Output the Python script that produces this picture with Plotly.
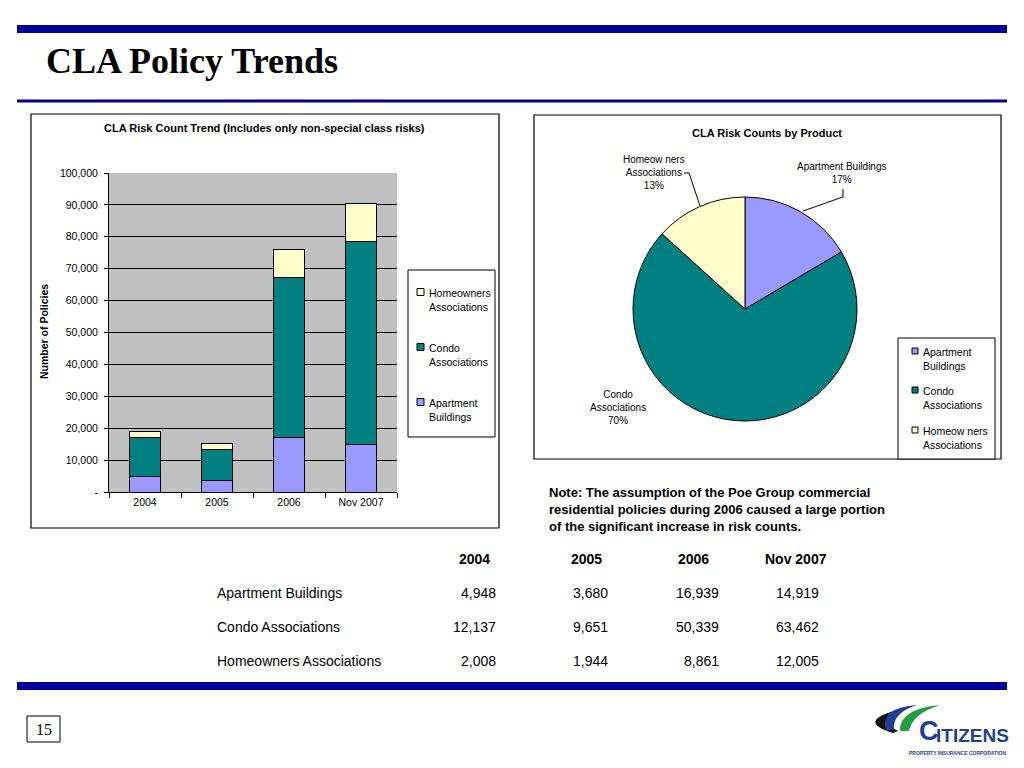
import plotly.graph_objects as go

# ---------------- data ----------------
years = ["2004", "2005", "2006", "Nov 2007"]
apartment = [4948, 3680, 16939, 14919]
condo = [12137, 9651, 50339, 63462]
homeowners = [2008, 1944, 8861, 12005]

series_names = ["Apartment Buildings", "Condo Associations", "Homeowners Associations"]
bar_legend_labels = ["Apartment<br>Buildings", "Condo<br>Associations", "Homeowners<br>Associations"]
pie_labels = ["Apartment Buildings", "Condo Associations", "Homeow ners Associations"]
pie_legend_labels = ["Apartment<br>Buildings", "Condo<br>Associations", "Homeow ners<br>Associations"]
pie_values = [apartment[-1], condo[-1], homeowners[-1]]

y_tickvals = [0, 10000, 20000, 30000, 40000, 50000, 60000, 70000, 80000, 90000, 100000]
y_ticktext = ["-", "10,000", "20,000", "30,000", "40,000", "50,000",
              "60,000", "70,000", "80,000", "90,000", "100,000"]

colors = ["#9999FF", "#008080", "#FFFFCC"]
NAVY = "#000099"
SANS = "Liberation Sans, Arial, sans-serif"
SERIF = "Liberation Serif, Times New Roman, serif"

W, H = 1024, 768


def px(x):
    return x / W


def py(y):
    return 1 - y / H


fig = go.Figure()

series = [apartment, condo, homeowners]
for name, vals, col in zip(series_names, series, colors):
    fig.add_trace(go.Bar(
        x=years, y=vals, name=name, width=0.42,
        marker=dict(color=col, line=dict(color="black", width=1)),
        xaxis="x", yaxis="y", showlegend=False,
    ))

fig.add_trace(go.Pie(
    labels=pie_labels, values=pie_values, sort=False, direction="clockwise",
    rotation=0, textinfo="none", showlegend=False,
    marker=dict(colors=colors, line=dict(color="black", width=1)),
    domain=dict(x=[px(633), px(857)], y=[py(421), py(197)]),
))

shapes = []
ann = []

# slide decorations
shapes.append(dict(type="rect", xref="paper", yref="paper", x0=px(17), x1=px(1007),
                   y0=py(33), y1=py(25), fillcolor=NAVY, line=dict(width=0)))
shapes.append(dict(type="rect", xref="paper", yref="paper", x0=px(17), x1=px(1007),
                   y0=py(102.5), y1=py(99.5), fillcolor=NAVY, line=dict(width=0)))
shapes.append(dict(type="rect", xref="paper", yref="paper", x0=px(17), x1=px(1007),
                   y0=py(690), y1=py(682), fillcolor=NAVY, line=dict(width=0)))

# panels
shapes.append(dict(type="rect", xref="paper", yref="paper", x0=px(31), x1=px(499),
                   y0=py(528), y1=py(114), line=dict(color="black", width=1.2)))
shapes.append(dict(type="rect", xref="paper", yref="paper", x0=px(534), x1=px(1001),
                   y0=py(459), y1=py(115), line=dict(color="black", width=1.2)))

# title
ann.append(dict(text="<b>CLA Policy Trends</b>", x=px(44), y=py(61), xref="paper", yref="paper",
                xanchor="left", yanchor="middle", showarrow=False,
                font=dict(family=SERIF, size=36, color="black")))

# bar chart title / axis title
ann.append(dict(text="<b>CLA Risk Count Trend (Includes only non-special class risks)</b>",
                x=px(264), y=py(128), xref="paper", yref="paper", showarrow=False,
                xanchor="center", yanchor="middle", font=dict(family=SANS, size=11, color="black")))
ann.append(dict(text="<b>Number of Policies</b>", x=px(44), y=py(332), xref="paper", yref="paper",
                showarrow=False, textangle=-90, xanchor="center", yanchor="middle",
                font=dict(family=SANS, size=10.5, color="black")))

# bar legend (manual)
shapes.append(dict(type="rect", xref="paper", yref="paper", x0=px(408), x1=px(495),
                   y0=py(437), y1=py(270), line=dict(color="black", width=1), fillcolor="white"))
bar_leg_y = [402, 347, 292]
for lab, col, yy in zip(bar_legend_labels, colors, bar_leg_y):
    shapes.append(dict(type="rect", xref="paper", yref="paper", x0=px(417), x1=px(424),
                       y0=py(yy + 3.5), y1=py(yy - 3.5), fillcolor=col,
                       line=dict(color="black", width=1)))
    ann.append(dict(text=lab, x=px(427), y=py(yy - 7), xref="paper", yref="paper",
                    showarrow=False, xanchor="left", yanchor="top", align="left",
                    font=dict(family=SANS, size=10.5, color="black")))

# pie title
ann.append(dict(text="<b>CLA Risk Counts by Product</b>", x=px(767), y=py(133), xref="paper",
                yref="paper", showarrow=False, xanchor="center", yanchor="middle",
                font=dict(family=SANS, size=11, color="black")))

# pie labels with computed percentages
total = sum(pie_values)
pcts = [round(v / total * 100) for v in pie_values]
pie_lab_text = [
    "Apartment Buildings<br>%d%%" % pcts[0],
    "Condo<br>Associations<br>%d%%" % pcts[1],
    "Homeow ners<br>Associations<br>%d%%" % pcts[2],
]
pie_lab_pos = [(842, 173), (618, 407), (654, 173)]
for t, (xx, yy) in zip(pie_lab_text, pie_lab_pos):
    ann.append(dict(text=t, x=px(xx), y=py(yy), xref="paper", yref="paper", showarrow=False,
                    xanchor="center", yanchor="middle", align="center",
                    font=dict(family=SANS, size=10, color="black")))


def ppath(points):
    s = "M %f,%f" % (px(points[0][0]), py(points[0][1]))
    for p in points[1:]:
        s += " L %f,%f" % (px(p[0]), py(p[1]))
    return s


shapes.append(dict(type="path", xref="paper", yref="paper",
                   path=ppath([(684, 173), (689, 173), (700, 206)]),
                   line=dict(color="black", width=1)))
shapes.append(dict(type="path", xref="paper", yref="paper",
                   path=ppath([(843, 189), (843, 197), (840, 198), (803, 211)]),
                   line=dict(color="black", width=1)))

# pie legend (manual)
shapes.append(dict(type="rect", xref="paper", yref="paper", x0=px(898), x1=px(995),
                   y0=py(459), y1=py(338), line=dict(color="black", width=1), fillcolor="white"))
pie_leg_y = [351, 390, 430]
for lab, col, yy in zip(pie_legend_labels, colors, pie_leg_y):
    shapes.append(dict(type="rect", xref="paper", yref="paper", x0=px(912), x1=px(918),
                       y0=py(yy + 3), y1=py(yy - 3), fillcolor=col,
                       line=dict(color="black", width=1)))
    ann.append(dict(text=lab, x=px(921), y=py(yy - 7), xref="paper", yref="paper",
                    showarrow=False, xanchor="left", yanchor="top", align="left",
                    font=dict(family=SANS, size=10.5, color="black")))

# note
ann.append(dict(text="<b>Note: The assumption of the Poe Group commercial<br>"
                     "residential policies during 2006 caused a large portion<br>"
                     "of the significant increase in risk counts.</b>",
                x=px(547), y=py(483), xref="paper", yref="paper", showarrow=False,
                xanchor="left", yanchor="top", align="left",
                font=dict(family=SANS, size=13, color="black")))

# table
header_x = [474, 586, 693, 796]
value_right_x = [498, 610, 721, 821]
for yr, hx in zip(years, header_x):
    ann.append(dict(text="<b>%s</b>" % yr, x=px(hx), y=py(559), xref="paper", yref="paper",
                    showarrow=False, xanchor="center", yanchor="middle",
                    font=dict(family=SANS, size=14, color="black")))
row_y = [593, 627, 661]
for name, vals, ry in zip(series_names, series, row_y):
    ann.append(dict(text=name, x=px(215), y=py(ry), xref="paper", yref="paper",
                    showarrow=False, xanchor="left", yanchor="middle",
                    font=dict(family=SANS, size=14, color="black")))
    for v, vx in zip(vals, value_right_x):
        ann.append(dict(text=f"{v:,}", x=px(vx), y=py(ry), xref="paper", yref="paper",
                        showarrow=False, xanchor="right", yanchor="middle",
                        font=dict(family=SANS, size=14, color="black")))

# page number
shapes.append(dict(type="rect", xref="paper", yref="paper", x0=px(27), x1=px(60),
                   y0=py(742), y1=py(716), line=dict(color="black", width=1), fillcolor="white"))
ann.append(dict(text="15", x=px(43.5), y=py(729), xref="paper", yref="paper", showarrow=False,
                xanchor="center", yanchor="middle", font=dict(family=SERIF, size=16, color="black")))


# logo (approximation)
def qpath(cmds):
    out = []
    for c in cmds:
        if c[0] == "M":
            out.append("M %f,%f" % (px(c[1]), py(c[2])))
        elif c[0] == "Q":
            out.append("Q %f,%f %f,%f" % (px(c[1]), py(c[2]), px(c[3]), py(c[4])))
        elif c[0] == "Z":
            out.append("Z")
    return " ".join(out)


LOGO_BLUE = "#1E3F99"
shapes.append(dict(type="path", xref="paper", yref="paper", fillcolor="#111111",
                   line=dict(width=0),
                   path=qpath([("M", 893, 733), ("Q", 854, 721, 901, 709),
                               ("Q", 876, 720, 898, 731), ("Z",)])))
shapes.append(dict(type="path", xref="paper", yref="paper", fillcolor=LOGO_BLUE,
                   line=dict(width=0),
                   path=qpath([("M", 886, 730), ("Q", 879, 708, 917, 705),
                               ("Q", 892, 713, 894, 730), ("Z",)])))
shapes.append(dict(type="path", xref="paper", yref="paper", fillcolor="#1FA03C",
                   line=dict(width=0),
                   path=qpath([("M", 900, 731), ("Q", 899, 709, 940, 705),
                               ("Q", 912, 714, 909, 731), ("Z",)])))
ann.append(dict(text="<b>C</b>", x=px(917), y=py(748), xref="paper", yref="paper",
                showarrow=False, xanchor="left", yanchor="bottom",
                font=dict(family=SANS, size=27, color=LOGO_BLUE)))
ann.append(dict(text="<b>ITIZENS</b>", x=px(934), y=py(748), xref="paper", yref="paper", showarrow=False,
                xanchor="left", yanchor="bottom",
                font=dict(family=SANS, size=19, color=LOGO_BLUE)))
ann.append(dict(text="<b>PROPERTY INSURANCE CORPORATION</b>", x=px(1008), y=py(753), xref="paper",
                yref="paper", showarrow=False, xanchor="right", yanchor="middle",
                font=dict(family=SANS, size=5, color=LOGO_BLUE)))

fig.update_layout(
    template="none",
    width=W, height=H, autosize=False,
    margin=dict(l=0, r=0, t=0, b=0, pad=0, autoexpand=False),
    paper_bgcolor="white", plot_bgcolor="#C0C0C0",
    barmode="stack", showlegend=False,
    font=dict(family=SANS, color="black"),
    xaxis=dict(domain=[px(109), px(397)], type="category", anchor="y", automargin=False,
               showline=True, linecolor="black", linewidth=1,
               ticks="outside", tickson="boundaries", ticklen=5, tickcolor="black",
               showgrid=False, tickfont=dict(family=SANS, size=10.5, color="black"),
               fixedrange=True),
    yaxis=dict(domain=[py(492), py(173)], range=[0, 100000], anchor="x", automargin=False,
               tickvals=y_tickvals, ticktext=y_ticktext,
               showgrid=True, gridcolor="black", gridwidth=1,
               showline=True, linecolor="black", linewidth=1, zeroline=False,
               ticks="outside", ticklen=4, tickcolor="black", ticklabelstandoff=4,
               tickfont=dict(family=SANS, size=10.5, color="black"), fixedrange=True),
    shapes=shapes,
    annotations=ann,
)

fig.write_html(
    "out.html",
    config={"displayModeBar": False},
    post_script="document.documentElement.style.margin='0';document.body.style.margin='0';"
                "document.documentElement.style.overflow='hidden';document.body.style.overflow='hidden';",
)
